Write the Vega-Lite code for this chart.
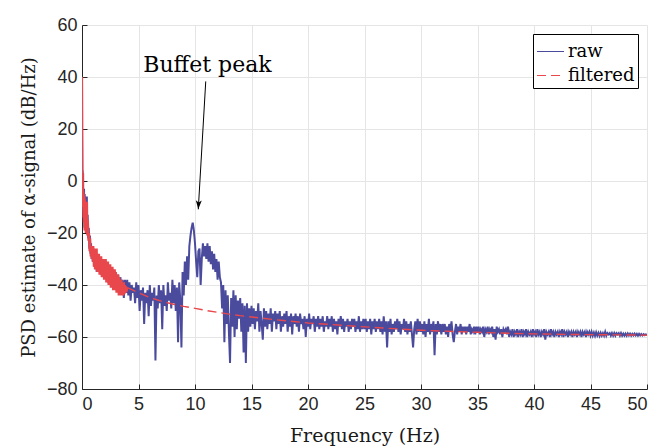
{
"$schema": "https://vega.github.io/schema/vega-lite/v6.json",
"width": 565, "height": 364,
"autosize": "none",
"padding": {"left": 82, "top": 25, "right": 24, "bottom": 59},
"background": "white",
"config": {"view": {"stroke": null}},
"datasets": {
"raw": [
{"f":0,"p":40},{"f":0.02,"p":15},{"f":0.04,"p":-2},{"f":0.06,"p":4},{"f":0.08,"p":-8},{"f":0.1,"p":3},{"f":0.12,"p":-12},{"f":0.14,"p":-4},{"f":0.16,"p":-15},{"f":0.18,"p":-3},{"f":0.2,"p":-10},{"f":0.22,"p":-18},{"f":0.24,"p":-5},{"f":0.27,"p":-14},{"f":0.3,"p":-7},{"f":0.33,"p":-19},{"f":0.36,"p":-9},{"f":0.4,"p":-17},{"f":0.43,"p":-6},{"f":0.46,"p":-20},{"f":0.5,"p":-13},{"f":0.55,"p":-22},{"f":0.6,"p":-18},{"f":0.65,"p":-26},{"f":0.7,"p":-21},{"f":0.75,"p":-28},{"f":0.8,"p":-24},{"f":0.85,"p":-30},{"f":0.9,"p":-25},{"f":0.95,"p":-31},
{"f":1.0,"p":-26},{"f":1.1,"p":-33},{"f":1.2,"p":-28},{"f":1.3,"p":-35},{"f":1.4,"p":-29},{"f":1.5,"p":-34},{"f":1.6,"p":-30},{"f":1.7,"p":-36},{"f":1.8,"p":-31},{"f":1.9,"p":-35},
{"f":2.0,"p":-31},{"f":2.1,"p":-37},{"f":2.2,"p":-32},{"f":2.3,"p":-39},{"f":2.4,"p":-33},{"f":2.5,"p":-38},{"f":2.6,"p":-34},{"f":2.7,"p":-40},{"f":2.8,"p":-35},{"f":2.9,"p":-38},
{"f":3.0,"p":-35},{"f":3.1,"p":-41},{"f":3.2,"p":-36},{"f":3.3,"p":-43},{"f":3.4,"p":-37},{"f":3.5,"p":-42},{"f":3.6,"p":-38},{"f":3.7,"p":-45},{"f":3.8,"p":-38},{"f":3.9,"p":-43},
{"f":4.0,"p":-38},{"f":4.1,"p":-44},{"f":4.2,"p":-39},{"f":4.3,"p":-46},{"f":4.4,"p":-40},{"f":4.5,"p":-43},{"f":4.6,"p":-41},{"f":4.7,"p":-47},{"f":4.8,"p":-39},{"f":4.9,"p":-45},
{"f":5.0,"p":-40},{"f":5.1,"p":-50},{"f":5.2,"p":-42},{"f":5.3,"p":-46},{"f":5.4,"p":-41},{"f":5.5,"p":-55},{"f":5.6,"p":-43},{"f":5.7,"p":-47},{"f":5.8,"p":-42},{"f":5.9,"p":-52},
{"f":6.0,"p":-40},{"f":6.1,"p":-48},{"f":6.2,"p":-43},{"f":6.3,"p":-46},{"f":6.4,"p":-41},{"f":6.5,"p":-69},{"f":6.6,"p":-44},{"f":6.7,"p":-49},{"f":6.8,"p":-40},{"f":6.9,"p":-47},
{"f":7.0,"p":-42},{"f":7.1,"p":-57},{"f":7.2,"p":-40},{"f":7.3,"p":-48},{"f":7.4,"p":-44},{"f":7.5,"p":-50},{"f":7.6,"p":-39},{"f":7.7,"p":-46},{"f":7.8,"p":-43},{"f":7.9,"p":-49},
{"f":8.0,"p":-38},{"f":8.1,"p":-47},{"f":8.2,"p":-40},{"f":8.3,"p":-50},{"f":8.4,"p":-41},{"f":8.5,"p":-62},{"f":8.6,"p":-39},{"f":8.7,"p":-46},{"f":8.8,"p":-64},{"f":8.9,"p":-35},
{"f":9.0,"p":-44},{"f":9.1,"p":-31},{"f":9.2,"p":-40},{"f":9.3,"p":-29},{"f":9.4,"p":-38},{"f":9.5,"p":-25},{"f":9.6,"p":-21},{"f":9.7,"p":-18},{"f":9.8,"p":-16},{"f":9.9,"p":-19},
{"f":10.0,"p":-24},{"f":10.1,"p":-31},{"f":10.2,"p":-37},{"f":10.3,"p":-27},{"f":10.4,"p":-26},{"f":10.5,"p":-40},{"f":10.6,"p":-30},{"f":10.7,"p":-24},{"f":10.8,"p":-29},{"f":10.9,"p":-25},
{"f":11.0,"p":-30},{"f":11.1,"p":-24},{"f":11.2,"p":-31},{"f":11.3,"p":-25},{"f":11.4,"p":-32},{"f":11.5,"p":-27},{"f":11.6,"p":-34},{"f":11.7,"p":-28},{"f":11.8,"p":-35},{"f":11.9,"p":-30},
{"f":12.0,"p":-38},{"f":12.1,"p":-31},{"f":12.2,"p":-37},{"f":12.3,"p":-39},{"f":12.4,"p":-49},{"f":12.5,"p":-40},{"f":12.6,"p":-62},{"f":12.7,"p":-42},{"f":12.8,"p":-55},{"f":12.9,"p":-44},
{"f":13.0,"p":-58},{"f":13.1,"p":-70},{"f":13.2,"p":-45},{"f":13.3,"p":-56},{"f":13.4,"p":-42},{"f":13.5,"p":-60},{"f":13.6,"p":-44},{"f":13.7,"p":-57},{"f":13.8,"p":-46},{"f":13.9,"p":-53},
{"f":14.0,"p":-45},{"f":14.1,"p":-58},{"f":14.2,"p":-47},{"f":14.3,"p":-66},{"f":14.4,"p":-48},{"f":14.5,"p":-70},{"f":14.6,"p":-47},{"f":14.7,"p":-58},{"f":14.8,"p":-49},{"f":14.9,"p":-56},
{"f":15.0,"p":-48},{"f":15.1,"p":-55},{"f":15.2,"p":-49},{"f":15.3,"p":-57},{"f":15.4,"p":-50},{"f":15.5,"p":-54},{"f":15.6,"p":-47},{"f":15.7,"p":-58},{"f":15.8,"p":-50},{"f":15.9,"p":-55},
{"f":16.0,"p":-61},{"f":16.1,"p":-49},{"f":16.2,"p":-56},{"f":16.3,"p":-50},{"f":16.4,"p":-57},{"f":16.5,"p":-51},{"f":16.6,"p":-55},{"f":16.7,"p":-49},{"f":16.8,"p":-58},{"f":16.9,"p":-51},
{"f":17.0,"p":-54},{"f":17.1,"p":-50},{"f":17.2,"p":-57},{"f":17.3,"p":-51},{"f":17.4,"p":-55},{"f":17.5,"p":-50},{"f":17.6,"p":-58},{"f":17.7,"p":-52},{"f":17.8,"p":-56},{"f":17.9,"p":-51},
{"f":18.0,"p":-55},{"f":18.1,"p":-50},{"f":18.2,"p":-58},{"f":18.3,"p":-52},{"f":18.4,"p":-56},{"f":18.5,"p":-51},{"f":18.6,"p":-59},{"f":18.7,"p":-52},{"f":18.8,"p":-55},{"f":18.9,"p":-51},
{"f":19.0,"p":-56},{"f":19.1,"p":-52},{"f":19.2,"p":-58},{"f":19.3,"p":-51},{"f":19.4,"p":-55},{"f":19.5,"p":-53},{"f":19.6,"p":-57},{"f":19.7,"p":-52},{"f":19.8,"p":-60},{"f":19.9,"p":-53},
{"f":20.0,"p":-56},{"f":20.1,"p":-51},{"f":20.2,"p":-57},{"f":20.3,"p":-53},{"f":20.4,"p":-55},{"f":20.5,"p":-52},{"f":20.6,"p":-58},{"f":20.7,"p":-53},{"f":20.8,"p":-56},{"f":20.9,"p":-52},
{"f":21.0,"p":-57},{"f":21.1,"p":-53},{"f":21.2,"p":-56},{"f":21.3,"p":-52},{"f":21.4,"p":-58},{"f":21.5,"p":-54},{"f":21.6,"p":-56},{"f":21.7,"p":-52},{"f":21.8,"p":-57},{"f":21.9,"p":-53},
{"f":22.0,"p":-56},{"f":22.1,"p":-52},{"f":22.2,"p":-58},{"f":22.3,"p":-53},{"f":22.4,"p":-57},{"f":22.5,"p":-54},{"f":22.6,"p":-59},{"f":22.7,"p":-53},{"f":22.8,"p":-56},{"f":22.9,"p":-52},
{"f":23.0,"p":-57},{"f":23.1,"p":-53},{"f":23.2,"p":-58},{"f":23.3,"p":-54},{"f":23.4,"p":-56},{"f":23.5,"p":-53},{"f":23.6,"p":-58},{"f":23.7,"p":-54},{"f":23.8,"p":-57},{"f":23.9,"p":-53},
{"f":24.0,"p":-56},{"f":24.1,"p":-53},{"f":24.2,"p":-58},{"f":24.3,"p":-54},{"f":24.4,"p":-57},{"f":24.5,"p":-52},{"f":24.6,"p":-58},{"f":24.7,"p":-54},{"f":24.8,"p":-57},{"f":24.9,"p":-53},
{"f":25.0,"p":-57},{"f":25.1,"p":-53},{"f":25.2,"p":-58},{"f":25.3,"p":-54},{"f":25.4,"p":-57},{"f":25.5,"p":-53},{"f":25.6,"p":-59},{"f":25.7,"p":-54},{"f":25.8,"p":-57},{"f":25.9,"p":-53},
{"f":26.0,"p":-58},{"f":26.1,"p":-54},{"f":26.2,"p":-57},{"f":26.3,"p":-53},{"f":26.4,"p":-58},{"f":26.5,"p":-54},{"f":26.6,"p":-59},{"f":26.7,"p":-52},{"f":26.8,"p":-58},{"f":26.9,"p":-54},
{"f":27.0,"p":-64},{"f":27.1,"p":-54},{"f":27.2,"p":-58},{"f":27.3,"p":-53},{"f":27.4,"p":-59},{"f":27.5,"p":-55},{"f":27.6,"p":-58},{"f":27.7,"p":-54},{"f":27.8,"p":-57},{"f":27.9,"p":-53},
{"f":28.0,"p":-58},{"f":28.1,"p":-54},{"f":28.2,"p":-59},{"f":28.3,"p":-55},{"f":28.4,"p":-57},{"f":28.5,"p":-53},{"f":28.6,"p":-58},{"f":28.7,"p":-54},{"f":28.8,"p":-59},{"f":28.9,"p":-55},
{"f":29.0,"p":-58},{"f":29.1,"p":-54},{"f":29.2,"p":-59},{"f":29.3,"p":-64},{"f":29.4,"p":-57},{"f":29.5,"p":-54},{"f":29.6,"p":-59},{"f":29.7,"p":-53},{"f":29.8,"p":-58},{"f":29.9,"p":-54},
{"f":30.0,"p":-58},{"f":30.1,"p":-55},{"f":30.2,"p":-59},{"f":30.3,"p":-54},{"f":30.4,"p":-60},{"f":30.5,"p":-55},{"f":30.6,"p":-58},{"f":30.7,"p":-53},{"f":30.8,"p":-59},{"f":30.9,"p":-55},
{"f":31.0,"p":-58},{"f":31.1,"p":-54},{"f":31.2,"p":-67},{"f":31.3,"p":-55},{"f":31.4,"p":-59},{"f":31.5,"p":-54},{"f":31.6,"p":-58},{"f":31.7,"p":-55},{"f":31.8,"p":-59},{"f":31.9,"p":-55},
{"f":32.0,"p":-58},{"f":32.1,"p":-55},{"f":32.2,"p":-59},{"f":32.3,"p":-56},{"f":32.4,"p":-60},{"f":32.5,"p":-55},{"f":32.6,"p":-58},{"f":32.7,"p":-54},{"f":32.8,"p":-59},{"f":32.9,"p":-62},
{"f":33.0,"p":-58},{"f":33.1,"p":-55},{"f":33.2,"p":-59},{"f":33.3,"p":-56},{"f":33.4,"p":-58},{"f":33.5,"p":-55},{"f":33.6,"p":-59},{"f":33.7,"p":-56},{"f":33.8,"p":-58},{"f":33.9,"p":-56},
{"f":34.0,"p":-59},{"f":34.1,"p":-56},{"f":34.2,"p":-58},{"f":34.3,"p":-55},{"f":34.4,"p":-59},{"f":34.5,"p":-57},{"f":34.6,"p":-58},{"f":34.7,"p":-56},{"f":34.8,"p":-59},{"f":34.9,"p":-56},
{"f":35.0,"p":-58},{"f":35.1,"p":-56},{"f":35.2,"p":-59},{"f":35.3,"p":-57},{"f":35.4,"p":-58},{"f":35.5,"p":-56},{"f":35.6,"p":-60},{"f":35.7,"p":-57},{"f":35.8,"p":-58},{"f":35.9,"p":-56},
{"f":36.0,"p":-59},{"f":36.1,"p":-57},{"f":36.2,"p":-58},{"f":36.3,"p":-56},{"f":36.4,"p":-60},{"f":36.5,"p":-57},{"f":36.6,"p":-61},{"f":36.7,"p":-56},{"f":36.8,"p":-58},{"f":36.9,"p":-57},
{"f":37.0,"p":-59},{"f":37.1,"p":-57},{"f":37.2,"p":-60},{"f":37.3,"p":-57},{"f":37.4,"p":-58},{"f":37.5,"p":-57},{"f":37.6,"p":-59},{"f":37.7,"p":-56},{"f":37.8,"p":-60},{"f":37.9,"p":-58},
{"f":38.0,"p":-59},{"f":38.1,"p":-57},{"f":38.2,"p":-60},{"f":38.3,"p":-58},{"f":38.4,"p":-59},{"f":38.5,"p":-57},{"f":38.6,"p":-60},{"f":38.7,"p":-58},{"f":38.8,"p":-59},{"f":38.9,"p":-57},
{"f":39.0,"p":-60},{"f":39.1,"p":-58},{"f":39.2,"p":-59},{"f":39.3,"p":-57},{"f":39.4,"p":-60},{"f":39.5,"p":-58},{"f":39.6,"p":-59},{"f":39.7,"p":-58},{"f":39.8,"p":-60},{"f":39.9,"p":-57},
{"f":40.0,"p":-59},{"f":40.1,"p":-58},{"f":40.2,"p":-60},{"f":40.3,"p":-57},{"f":40.4,"p":-59},{"f":40.5,"p":-58},{"f":40.6,"p":-60},{"f":40.7,"p":-58},{"f":40.8,"p":-59},{"f":40.9,"p":-57},
{"f":41.0,"p":-61},{"f":41.1,"p":-58},{"f":41.2,"p":-59},{"f":41.3,"p":-58},{"f":41.4,"p":-60},{"f":41.5,"p":-57},{"f":41.6,"p":-59},{"f":41.7,"p":-58},{"f":41.8,"p":-60},{"f":41.9,"p":-58},
{"f":42.0,"p":-59},{"f":42.1,"p":-58},{"f":42.2,"p":-60},{"f":42.3,"p":-58},{"f":42.4,"p":-59},{"f":42.5,"p":-57},{"f":42.6,"p":-60},{"f":42.7,"p":-58},{"f":42.8,"p":-59},{"f":42.9,"p":-58},
{"f":43.0,"p":-60},{"f":43.1,"p":-58},{"f":43.2,"p":-59},{"f":43.3,"p":-58},{"f":43.4,"p":-60},{"f":43.5,"p":-58},{"f":43.6,"p":-59},{"f":43.7,"p":-58},{"f":43.8,"p":-60},{"f":43.9,"p":-58},
{"f":44.0,"p":-59},{"f":44.1,"p":-58},{"f":44.2,"p":-60},{"f":44.3,"p":-58},{"f":44.4,"p":-59},{"f":44.5,"p":-58},{"f":44.6,"p":-60},{"f":44.7,"p":-58},{"f":44.8,"p":-59},{"f":44.9,"p":-58},
{"f":45.0,"p":-59.5},{"f":45.1,"p":-58},{"f":45.2,"p":-59.5},{"f":45.3,"p":-58.3},{"f":45.4,"p":-59.6},{"f":45.5,"p":-58.2},{"f":45.6,"p":-59.5},{"f":45.7,"p":-58.4},{"f":45.8,"p":-59.6},{"f":45.9,"p":-58.4},
{"f":46.0,"p":-59.5},{"f":46.1,"p":-58.5},{"f":46.2,"p":-59.5},{"f":46.3,"p":-58},{"f":46.4,"p":-59.5},{"f":46.5,"p":-58.5},{"f":46.6,"p":-59},{"f":46.7,"p":-58.5},{"f":46.8,"p":-59.5},{"f":46.9,"p":-58.5},
{"f":47.0,"p":-59.5},{"f":47.1,"p":-58.5},{"f":47.2,"p":-59.5},{"f":47.3,"p":-58.5},{"f":47.4,"p":-59},{"f":47.5,"p":-58.5},{"f":47.6,"p":-59.5},{"f":47.7,"p":-58.5},{"f":47.8,"p":-59.5},{"f":47.9,"p":-58.7},
{"f":48.0,"p":-59.5},{"f":48.1,"p":-58.7},{"f":48.2,"p":-59.5},{"f":48.3,"p":-58.6},{"f":48.4,"p":-59.4},{"f":48.5,"p":-58.7},{"f":48.6,"p":-59.5},{"f":48.7,"p":-58.8},{"f":48.8,"p":-59.4},{"f":48.9,"p":-58.7},
{"f":49.0,"p":-59.4},{"f":49.1,"p":-58.8},{"f":49.2,"p":-59.5},{"f":49.3,"p":-58.8},{"f":49.4,"p":-59.4},{"f":49.5,"p":-58.9},{"f":49.6,"p":-59.4},{"f":49.7,"p":-58.9},{"f":49.8,"p":-59.3},{"f":49.9,"p":-59},
{"f":50.0,"p":-59.2}
],
"filtnoisy": [
{"f":0,"p":40},{"f":0.01,"p":20},{"f":0.03,"p":0},{"f":0.05,"p":-6},{"f":0.07,"p":3},{"f":0.09,"p":-10},{"f":0.11,"p":-4},{"f":0.13,"p":-14},{"f":0.15,"p":-5},{"f":0.17,"p":-16},{"f":0.19,"p":-6},{"f":0.21,"p":-12},{"f":0.23,"p":-19},{"f":0.25,"p":-7},{"f":0.28,"p":-15},{"f":0.31,"p":-9},{"f":0.34,"p":-20},{"f":0.37,"p":-11},{"f":0.41,"p":-18},{"f":0.44,"p":-8},{"f":0.47,"p":-21},{"f":0.52,"p":-15},{"f":0.57,"p":-23},{"f":0.62,"p":-20},{"f":0.67,"p":-27},{"f":0.72,"p":-22},{"f":0.77,"p":-29},{"f":0.82,"p":-25},{"f":0.87,"p":-30},{"f":0.92,"p":-26},{"f":0.97,"p":-31},
{"f":1.0,"p":-25},{"f":1.05,"p":-33},{"f":1.1,"p":-26},{"f":1.15,"p":-34},{"f":1.2,"p":-27},{"f":1.25,"p":-34},{"f":1.3,"p":-26},{"f":1.35,"p":-35},{"f":1.4,"p":-28},{"f":1.45,"p":-35},{"f":1.5,"p":-28},{"f":1.55,"p":-36},{"f":1.6,"p":-29},{"f":1.65,"p":-36},{"f":1.7,"p":-29},{"f":1.75,"p":-37},{"f":1.8,"p":-30},{"f":1.85,"p":-37},{"f":1.9,"p":-30},{"f":1.95,"p":-38},
{"f":2.0,"p":-31},{"f":2.05,"p":-38},{"f":2.1,"p":-30},{"f":2.15,"p":-39},{"f":2.2,"p":-32},{"f":2.25,"p":-39},{"f":2.3,"p":-31},{"f":2.35,"p":-40},{"f":2.4,"p":-33},{"f":2.45,"p":-39},{"f":2.5,"p":-32},{"f":2.55,"p":-41},{"f":2.6,"p":-34},{"f":2.65,"p":-40},{"f":2.7,"p":-33},{"f":2.75,"p":-42},{"f":2.8,"p":-35},{"f":2.85,"p":-41},{"f":2.9,"p":-34},{"f":2.95,"p":-42},
{"f":3.0,"p":-35},{"f":3.05,"p":-43},{"f":3.1,"p":-36},{"f":3.15,"p":-42},{"f":3.2,"p":-36},{"f":3.25,"p":-44},{"f":3.3,"p":-37},{"f":3.35,"p":-43},{"f":3.4,"p":-38},{"f":3.45,"p":-44},{"f":3.5,"p":-38},{"f":3.55,"p":-44},{"f":3.6,"p":-39},{"f":3.65,"p":-44},{"f":3.7,"p":-39},{"f":3.75,"p":-43.5},{"f":3.8,"p":-40},{"f":3.85,"p":-43},{"f":3.9,"p":-40.5},{"f":3.95,"p":-42.5},{"f":4.0,"p":-41}
],
"filt": [
{"f":4.0,"p":-41},{"f":4.5,"p":-42},{"f":5,"p":-43},{"f":6,"p":-44.8},{"f":7,"p":-46.2},{"f":8,"p":-47.3},{"f":9,"p":-48.2},{"f":10,"p":-49},{"f":11,"p":-49.8},{"f":12,"p":-50.5},{"f":13,"p":-51.2},{"f":14,"p":-51.8},{"f":15,"p":-52.3},{"f":17,"p":-53.3},{"f":20,"p":-54.6},{"f":22,"p":-55.2},{"f":25,"p":-56.1},{"f":28,"p":-56.9},{"f":30,"p":-57.4},{"f":33,"p":-57.9},{"f":35,"p":-58.2},{"f":38,"p":-58.6},{"f":40,"p":-58.8},{"f":43,"p":-59},{"f":45,"p":-59.1},{"f":48,"p":-59.2},{"f":50,"p":-59.3}
],
"arrow": [{"f":10.95,"p":38.3,"f2":10.29,"p2":-10.9}],
"ann": [{"f":11.1,"p":42,"t":"Buffet peak"}]
},
"layer": [
{"data": {"name": "raw"},
 "mark": {"type": "line", "strokeWidth": 2, "clip": true},
 "encoding": {
  "x": {"field": "f", "type": "quantitative", "scale": {"domain": [0, 50]},
    "axis": {"title": "Frequency (Hz)", "values": [0,5,10,15,20,25,30,35,40,45,50], "grid": true, "gridColor": "#e5e5e5", "domainColor": "#262626", "tickColor": "#262626", "tickSize": -5, "labelPadding": 11, "labelFont": "Liberation Sans", "labelFontSize": 18, "labelColor": "#262626", "titleFont": "DejaVu Serif", "titleFontSize": 19, "titleFontWeight": "normal", "titleColor": "#1a1a1a", "titlePadding": 13}},
  "y": {"field": "p", "type": "quantitative", "scale": {"domain": [-80, 60]},
    "axis": {"title": "PSD estimate of α-signal (dB/Hz)", "values": [-80,-60,-40,-20,0,20,40,60], "grid": true, "gridColor": "#e5e5e5", "domainColor": "#262626", "tickColor": "#262626", "tickSize": -5, "labelPadding": 10, "labelFont": "Liberation Sans", "labelFontSize": 18, "labelColor": "#262626", "titleFont": "DejaVu Serif", "titleFontSize": 18, "titleFontWeight": "normal", "titleColor": "#1a1a1a", "titlePadding": 8}},
  "color": {"datum": "raw", "type": "nominal", "scale": {"domain": ["raw", "filtered"], "range": ["#4b4b9e", "#e8474c"]},
    "legend": {"title": null, "orient": "none", "legendX": 451, "legendY": 9, "symbolType": "stroke", "symbolSize": 729, "symbolStrokeWidth": 1.2, "labelFont": "DejaVu Serif", "labelFontSize": 18, "labelColor": "black", "strokeColor": "black", "fillColor": "white", "padding": 3, "rowPadding": 0, "labelOffset": 3, "cornerRadius": 0}},
  "strokeDash": {"datum": "raw", "type": "nominal", "scale": {"domain": ["raw", "filtered"], "range": [[1, 0], [9, 5]]},
    "legend": {"title": null, "orient": "none", "legendX": 451, "legendY": 9, "symbolType": "stroke", "symbolSize": 729, "symbolStrokeWidth": 1.2, "labelFont": "DejaVu Serif", "labelFontSize": 18, "labelColor": "black", "strokeColor": "black", "fillColor": "white", "padding": 3, "rowPadding": 0, "labelOffset": 3, "cornerRadius": 0}}
 }},
{"data": {"name": "filtnoisy"},
 "mark": {"type": "line", "strokeWidth": 2.2, "clip": true, "color": "#e8474c"},
 "encoding": {
  "x": {"field": "f", "type": "quantitative"},
  "y": {"field": "p", "type": "quantitative"}
 }},
{"data": {"name": "filt"},
 "mark": {"type": "line", "strokeWidth": 1.4, "clip": true},
 "encoding": {
  "x": {"field": "f", "type": "quantitative"},
  "y": {"field": "p", "type": "quantitative"},
  "color": {"datum": "filtered", "type": "nominal"},
  "strokeDash": {"datum": "filtered", "type": "nominal"}
 }},
{"data": {"name": "arrow"},
 "mark": {"type": "rule", "color": "black", "strokeWidth": 1},
 "encoding": {
  "x": {"field": "f", "type": "quantitative"},
  "x2": {"field": "f2"},
  "y": {"field": "p", "type": "quantitative"},
  "y2": {"field": "p2"}
 }},
{"data": {"name": "arrow"},
 "mark": {"type": "point", "shape": "M0,0L-0.33,-1L0,-0.75L0.33,-1Z", "filled": true, "color": "black", "size": 324, "angle": 3.3, "opacity": 1},
 "encoding": {
  "x": {"field": "f2", "type": "quantitative"},
  "y": {"field": "p2", "type": "quantitative"}
 }},
{"data": {"name": "ann"},
 "mark": {"type": "text", "font": "DejaVu Serif", "fontSize": 22, "baseline": "alphabetic", "align": "center", "color": "black"},
 "encoding": {
  "x": {"field": "f", "type": "quantitative"},
  "y": {"field": "p", "type": "quantitative"},
  "text": {"field": "t"}
 }}
]
}
